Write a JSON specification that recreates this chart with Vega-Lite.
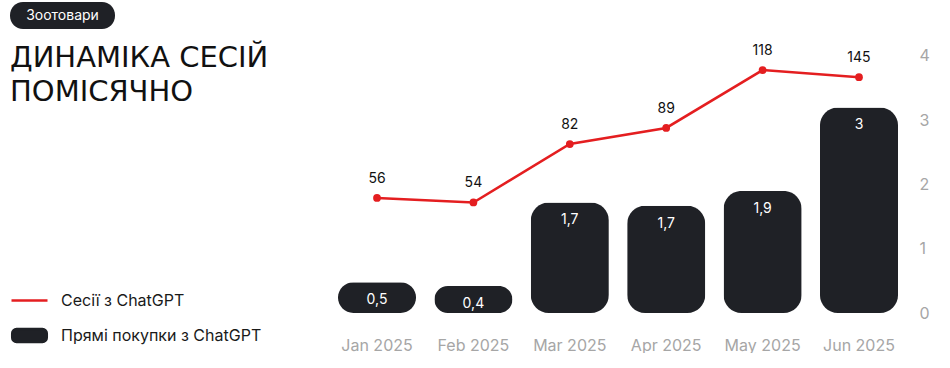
{
  "$schema": "https://vega.github.io/schema/vega-lite/v6.json",
  "padding": {"left": 10, "top": 2, "right": 0, "bottom": 0},
  "bounds": "flush",
  "spacing": 214,
  "config": {
    "view": {"stroke": null},
    "font": "Inter",
    "axis": {"labelFont": "Inter"},
    "legend": {"labelFont": "Inter"}
  },
  "datasets": {
    "tag": [{"tag": "Зоотовари"}],
    "monthly": [
      {"month": "Jan 2025", "purchases": 0.48, "purchasesLabel": "0,5", "sessions": 56, "sessionsIndex": 1.79},
      {"month": "Feb 2025", "purchases": 0.42, "purchasesLabel": "0,4", "sessions": 54, "sessionsIndex": 1.72},
      {"month": "Mar 2025", "purchases": 1.72, "purchasesLabel": "1,7", "sessions": 82, "sessionsIndex": 2.63},
      {"month": "Apr 2025", "purchases": 1.67, "purchasesLabel": "1,7", "sessions": 89, "sessionsIndex": 2.88},
      {"month": "May 2025", "purchases": 1.9, "purchasesLabel": "1,9", "sessions": 118, "sessionsIndex": 3.78},
      {"month": "Jun 2025", "purchases": 3.2, "purchasesLabel": "3", "sessions": 145, "sessionsIndex": 3.67}
    ]
  },
  "hconcat": [
    {
      "width": 105,
      "height": 27,
      "data": {"name": "tag"},
      "title": {
        "text": ["ДИНАМІКА СЕСІЙ", "ПОМІСЯЧНО"],
        "orient": "bottom",
        "anchor": "start",
        "frame": "group",
        "baseline": "top",
        "offset": 15,
        "font": "DejaVu Sans",
        "fontSize": 29,
        "fontWeight": "normal",
        "lineHeight": 34,
        "color": "#111111"
      },
      "layer": [
        {"mark": {"type": "rect", "fill": "#1f2126", "cornerRadius": 13}, "encoding": {}},
        {"mark": {"type": "text", "color": "#ffffff", "fontSize": 14, "font": "Inter"}, "encoding": {"text": {"field": "tag"}}}
      ]
    },
    {
      "width": 578,
      "height": 311,
      "data": {"name": "monthly"},
      "encoding": {
        "x": {
          "field": "month",
          "type": "nominal",
          "sort": null,
          "scale": {"paddingInner": 0.19, "paddingOuter": 0.093},
          "axis": {"title": null, "domain": false, "ticks": false, "labelAngle": 0, "labelPadding": 24, "labelFontSize": 16, "labelColor": "#a6a6a6"}
        }
      },
      "layer": [
        {
          "mark": {"type": "bar", "cornerRadius": 18},
          "encoding": {
            "y": {
              "field": "purchases",
              "type": "quantitative",
              "scale": {"domain": [0, 4.84], "nice": false},
              "axis": {"title": null, "orient": "right", "values": [0, 1, 2, 3, 4], "format": "d", "domain": false, "ticks": false, "grid": false, "labelPadding": 12, "labelFontSize": 16, "labelColor": "#a6a6a6", "labelAlign": "left"}
            },
            "color": {
              "datum": "Прямі покупки з ChatGPT",
              "scale": {"domain": ["Сесії з ChatGPT", "Прямі покупки з ChatGPT"], "range": ["#e41e20", "#1f2126"]},
              "legend": {
                "title": null,
                "orient": "none",
                "legendX": 0,
                "legendY": 279,
                "direction": "vertical",
                "rowPadding": 7,
                "labelFontSize": 16,
                "labelColor": "#1a1a1a",
                "labelOffset": 12,
                "labelLimit": 400,
                "symbolSize": 1296,
                "encode": {
                  "symbols": {
                    "update": {
                      "shape": {"signal": "datum.value === 'Сесії з ChatGPT' ? 'stroke' : 'M-0.72,-0.36H0.72A0.24,0.24 0 0 1 0.96,-0.12V0.12A0.24,0.24 0 0 1 0.72,0.36H-0.72A0.24,0.24 0 0 1 -0.96,0.12V-0.12A0.24,0.24 0 0 1 -0.72,-0.36Z'"},
                      "fill": {"signal": "datum.value === 'Сесії з ChatGPT' ? 'transparent' : '#1f2126'"},
                      "stroke": {"signal": "datum.value === 'Сесії з ChatGPT' ? '#e41e20' : 'transparent'"},
                      "strokeWidth": {"value": 2.5},
                      "opacity": {"value": 1},
                      "fillOpacity": {"value": 1},
                      "strokeOpacity": {"value": 1}
                    }
                  }
                }
              }
            }
          }
        },
        {
          "mark": {"type": "text", "color": "#ffffff", "fontSize": 14, "dy": 18, "baseline": "middle"},
          "encoding": {
            "y": {"field": "purchases", "type": "quantitative"},
            "text": {"field": "purchasesLabel"}
          }
        },
        {
          "mark": {"type": "line", "strokeWidth": 2.5, "point": {"filled": true, "size": 60}},
          "encoding": {
            "y": {"field": "sessionsIndex", "type": "quantitative"},
            "color": {"datum": "Сесії з ChatGPT"}
          }
        },
        {
          "mark": {"type": "text", "color": "#111111", "fontSize": 14, "dy": -19, "baseline": "middle"},
          "encoding": {
            "y": {"field": "sessionsIndex", "type": "quantitative"},
            "text": {"field": "sessions"}
          }
        }
      ]
    }
  ]
}
